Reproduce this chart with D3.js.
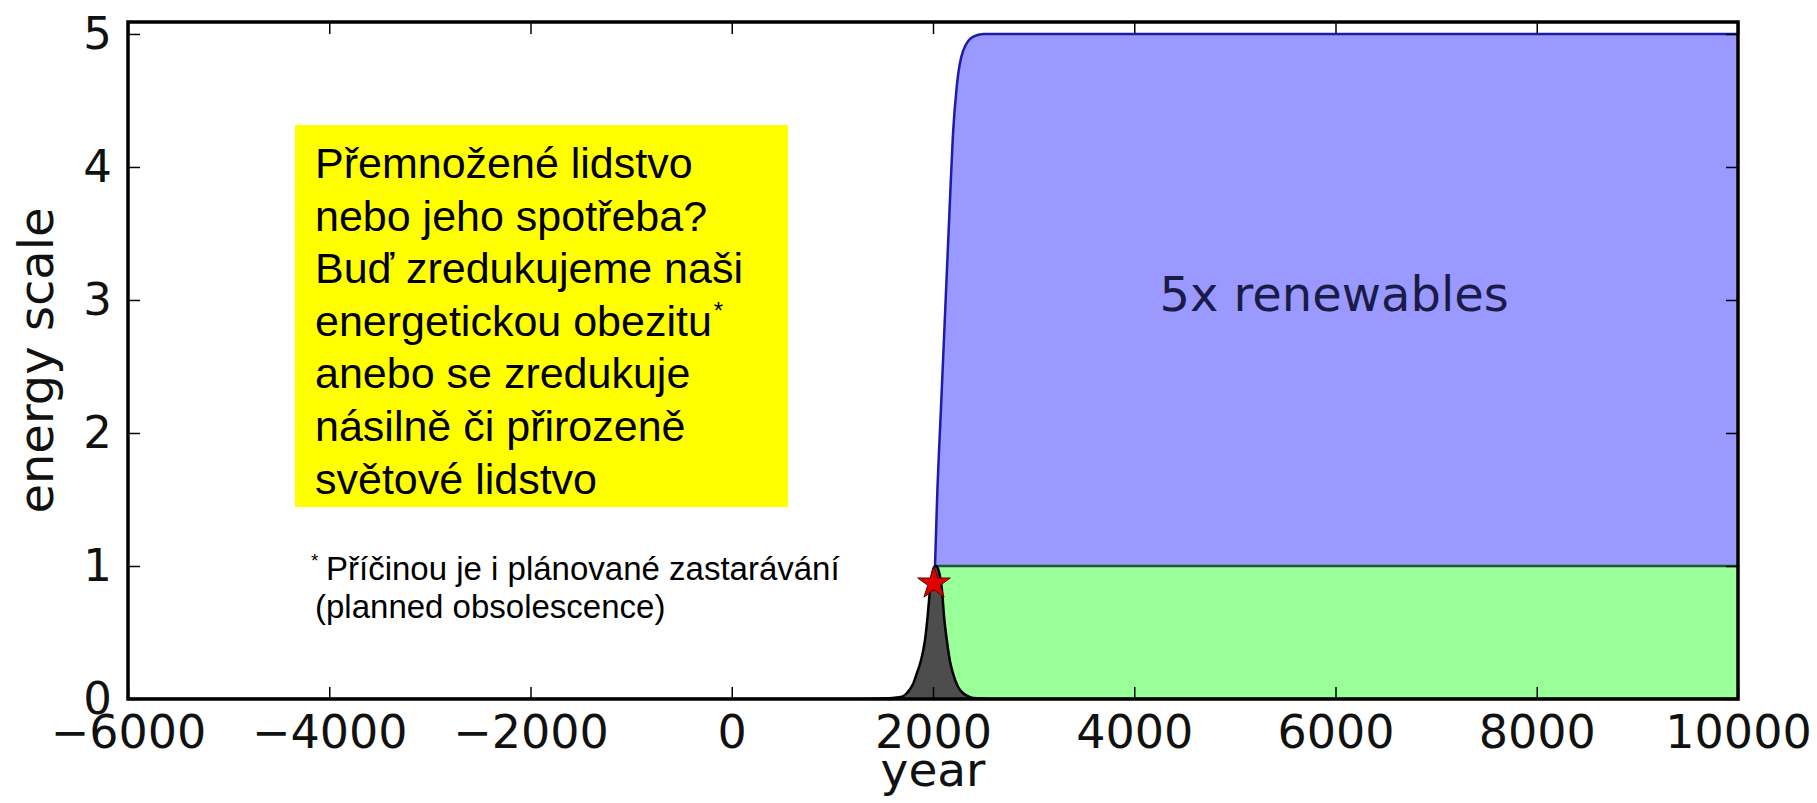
<!DOCTYPE html>
<html>
<head>
<meta charset="utf-8">
<script src="https://cdn.jsdelivr.net/npm/d3@7"></script>
<style>
  html, body { margin: 0; padding: 0; background: #ffffff; }
  svg { display: block; }
</style>
</head>
<body>
<svg id="chart" width="1817" height="803"></svg>
<script>
// ---------------- DATA ----------------
const xTicks = [-6000, -4000, -2000, 0, 2000, 4000, 6000, 8000, 10000];
const yTicks = [0, 1, 2, 3, 4, 5];

// fossil fuel spike (energy scale)
const fossilYears  = [-6000, 1000, 1500, 1600, 1700, 1741, 1800, 1840, 1880, 1920, 1950, 1970, 1990, 2010, 2030, 2050, 2070, 2089, 2110, 2138, 2170, 2198, 2250, 2297, 2350, 2400, 2500, 2600, 10000];
const fossilValues = [0, 0, 0.004, 0.008, 0.02, 0.045, 0.11, 0.195, 0.29, 0.44, 0.65, 0.82, 0.93, 0.99, 1.0, 0.98, 0.92, 0.82, 0.62, 0.44, 0.28, 0.195, 0.09, 0.045, 0.02, 0.008, 0.003, 0, 0];

// renewables at today's scale (green)
const renewYears  = [2030, 10000];
const renewValues = [1, 1];

// 5x renewables (blue)
const blueYears  = [2020, 2040, 2080, 2120, 2168, 2198, 2238, 2298, 2400, 2500, 10000];
const blueValues = [1.0, 1.49, 2.2, 2.9, 3.74, 4.24, 4.62, 4.87, 4.98, 5.0, 5.0];

// "we are here" star
const starYears  = [2010];
const starValues = [0.87];

const boxLines = [
  "Přemnožené lidstvo",
  "nebo jeho spotřeba?",
  "Buď zredukujeme naši",
  "energetickou obezitu",
  "anebo se zredukuje",
  "násilně či přirozeně",
  "světové lidstvo"
];

// ---------------- LAYOUT ----------------
const svg = d3.select("#chart");
const L = 128, R = 1738, T = 22, B = 699;
const x = d3.scaleLinear().domain([-6000, 10000]).range([L, R]);
const y = d3.scaleLinear().domain([0, 5.09]).range([B, T]);

const tickFont = "'DejaVu Sans', sans-serif";

svg.append("rect").attr("width", 1817).attr("height", 803).attr("fill", "#ffffff");

svg.append("defs").append("clipPath").attr("id", "plotclip")
  .append("rect").attr("x", L).attr("y", T).attr("width", R - L).attr("height", B - T);

const plot = svg.append("g").attr("clip-path", "url(#plotclip)");

const fossil = fossilYears.map((d, i) => ({ t: d, v: fossilValues[i] }));
const renew = renewYears.map((d, i) => ({ t: d, v: renewValues[i] }));
const blue = blueYears.map((d, i) => ({ t: d, v: blueValues[i] }));

// green area
plot.append("path")
  .datum(renew)
  .attr("fill", "#99ff99")
  .attr("d", d3.area().x(d => x(d.t)).y0(y(0)).y1(d => y(d.v)));

// blue area (between 1x and 5x)
plot.append("path")
  .datum(blue)
  .attr("fill", "#9999ff")
  .attr("d", d3.area().curve(d3.curveMonotoneX).x(d => x(d.t)).y0(y(1)).y1(d => y(d.v)));

// green top line
plot.append("path")
  .datum(renew)
  .attr("fill", "none")
  .attr("stroke", "#1f5a2c")
  .attr("stroke-width", 2.5)
  .attr("d", d3.line().x(d => x(d.t)).y(d => y(d.v)));

// blue line
plot.append("path")
  .datum(blue)
  .attr("fill", "none")
  .attr("stroke", "#1c1caa")
  .attr("stroke-width", 2.5)
  .attr("d", d3.line().curve(d3.curveMonotoneX).x(d => x(d.t)).y(d => y(d.v)));

// fossil spike
plot.append("path")
  .datum(fossil)
  .attr("fill", "#4d4d4d")
  .attr("d", d3.area().curve(d3.curveMonotoneX).x(d => x(d.t)).y0(y(0)).y1(d => y(d.v)));
plot.append("path")
  .datum(fossil)
  .attr("fill", "none")
  .attr("stroke", "#000000")
  .attr("stroke-width", 2.5)
  .attr("d", d3.line().curve(d3.curveMonotoneX).x(d => x(d.t)).y(d => y(d.v)));

// star
svg.append("g").selectAll("path.star")
  .data(starYears.map((d, i) => ({ t: d, v: starValues[i] })))
  .join("path")
  .attr("class", "star")
  .attr("transform", d => `translate(${x(d.t)},${y(d.v)})`)
  .attr("d", d3.symbol().type(d3.symbolStar).size(330))
  .attr("fill", "#e00000")
  .attr("stroke", "#600000")
  .attr("stroke-width", 1);

// ---------------- AXES ----------------
const fmt = d3.format("d");
const gx = svg.append("g").attr("transform", `translate(0,${B})`)
  .call(d3.axisBottom(x).tickValues(xTicks).tickFormat(fmt).tickSize(-12).tickPadding(0));
gx.select(".domain").remove();
gx.selectAll("line").attr("stroke", "#000").attr("stroke-width", 1.5);
gx.selectAll("text").attr("y", 49).attr("dy", 0).attr("font-size", 46).attr("font-family", tickFont).attr("fill", "#111");

const gxTop = svg.append("g").attr("transform", `translate(0,${T})`)
  .call(d3.axisTop(x).tickValues(xTicks).tickFormat("").tickSize(-12));
gxTop.select(".domain").remove();
gxTop.selectAll("line").attr("stroke", "#000").attr("stroke-width", 1.5);

const gy = svg.append("g").attr("transform", `translate(${L},0)`)
  .call(d3.axisLeft(y).tickValues(yTicks).tickFormat(fmt).tickSize(-12).tickPadding(0));
gy.select(".domain").remove();
gy.selectAll("line").attr("stroke", "#000").attr("stroke-width", 1.5);
gy.selectAll("text").attr("x", -16).attr("dy", "0.33em").attr("font-size", 45).attr("font-family", tickFont).attr("fill", "#111");

const gyR = svg.append("g").attr("transform", `translate(${R},0)`)
  .call(d3.axisRight(y).tickValues(yTicks).tickFormat("").tickSize(-12));
gyR.select(".domain").remove();
gyR.selectAll("line").attr("stroke", "#000").attr("stroke-width", 1.5);

// frame
svg.append("rect")
  .attr("x", L).attr("y", T).attr("width", R - L).attr("height", B - T)
  .attr("fill", "none").attr("stroke", "#000").attr("stroke-width", 3.5);

// axis titles
svg.append("text")
  .attr("x", (L + R) / 2).attr("y", 786)
  .attr("text-anchor", "middle")
  .attr("font-family", tickFont).attr("font-size", 47).attr("fill", "#111")
  .text("year");

svg.append("text")
  .attr("transform", `translate(53,${(T + B) / 2}) rotate(-90)`)
  .attr("text-anchor", "middle")
  .attr("font-family", tickFont).attr("font-size", 48).attr("fill", "#111")
  .text("energy scale");

// series label
svg.append("text")
  .attr("x", x(4250)).attr("y", y(2.92))
  .attr("font-family", tickFont).attr("font-size", 48).attr("fill", "#1b1b48")
  .text("5x renewables");

// ---------------- ANNOTATIONS ----------------
const arial = "'Liberation Sans', Arial, sans-serif";
svg.append("rect")
  .attr("x", 295).attr("y", 125).attr("width", 493).attr("height", 382)
  .attr("fill", "#ffff00");

const boxText = svg.append("text")
  .attr("font-family", arial).attr("font-size", 43).attr("fill", "#000");
boxLines.forEach((line, i) => {
  boxText.append("tspan").attr("x", 315).attr("y", 178 + i * 52.6).text(line);
  if (i === 3) {
    boxText.append("tspan").attr("font-size", 24).attr("dy", -17).attr("dx", 2).text("*");
  }
});

const foot = svg.append("text")
  .attr("font-family", arial).attr("font-size", 33).attr("fill", "#000");
foot.append("tspan").attr("x", 311).attr("y", 567).attr("font-size", 19).text("*");
foot.append("tspan").attr("x", 326).attr("y", 580).text("Příčinou je i plánované zastarávání");
foot.append("tspan").attr("x", 315).attr("y", 618).text("(planned obsolescence)");
</script>
</body>
</html>
